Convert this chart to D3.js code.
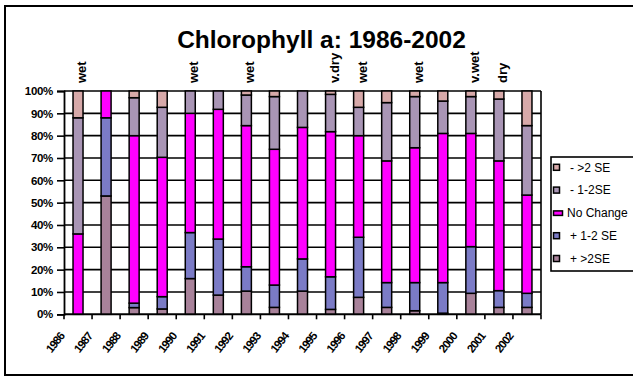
<!DOCTYPE html>
<html>
<head>
<meta charset="utf-8">
<script src="https://cdn.jsdelivr.net/npm/d3@7"></script>
<style>
  html, body { margin: 0; padding: 0; background: #fff; }
  svg { display: block; font-family: Arial, "Liberation Sans", sans-serif; }
</style>
</head>
<body>
<svg id="chart" width="633" height="376"></svg>
<script>
// Yearly share of stations (%) in each chlorophyll-a change class
const years = ["1986","1987","1988","1989","1990","1991","1992","1993","1994",
               "1995","1996","1997","1998","1999","2000","2001","2002"];
const plusGT2SE  = [0, 53, 3, 2.4, 16, 8.6, 10.4, 3.1, 10.4, 2.2, 7.6, 3.1, 1.6, 0.5, 9.4, 3.1, 3.1];
const plus1to2SE = [0, 35, 2, 5.5, 20.6, 25.1, 10.9, 10, 14.4, 14.6, 26.9, 11.1, 12.6, 13.7, 20.9, 7.5, 6.3];
const noChange   = [36, 12, 75, 62.4, 53.4, 58.1, 63.2, 60.8, 58.9, 65, 45.5, 54.5, 60.4, 66.8, 50.7, 58.1, 44];
const minus1to2SE= [52, 0, 17, 22.4, 10, 8.2, 13.7, 23.6, 16.3, 16.7, 12.7, 26.1, 22.9, 14.5, 16.5, 27.7, 31.1];
const minusGT2SE = [12, 0, 3, 7.3, 0, 0, 1.8, 2.5, 0, 1.5, 7.3, 5.2, 2.5, 4.5, 2.5, 3.6, 15.5];
// Hydrological condition of each year
const yearNotes = ["wet","","","","wet","","wet","","","v.dry","wet","","wet","","v.wet","dry",""];
const yTicks = [0,10,20,30,40,50,60,70,80,90,100];

// Series in stacking order, bottom to top
const seriesNames  = ["+ >2SE", "+ 1-2 SE", "No Change", "- 1-2SE", "- >2 SE"];
const seriesKeys   = ["pg2", "p12", "nc", "m12", "mg2"];
const seriesColors = ["#a8829a", "#7b7bc6", "#ff00ff", "#a995b5", "#d7a9a9"];

const rows = years.map((y, i) => ({
  year: y, pg2: plusGT2SE[i], p12: plus1to2SE[i], nc: noChange[i],
  m12: minus1to2SE[i], mg2: minusGT2SE[i]
}));

const svg = d3.select("#chart");
const font = 'Arial, "Liberation Sans", sans-serif';

// outer chart frame
svg.append("rect")
  .attr("x", 5).attr("y", 6).attr("width", 640).attr("height", 369)
  .attr("fill", "#fff").attr("stroke", "#000").attr("stroke-width", 2);

const plot = { left: 64, right: 541, top: 91, bottom: 314.3 };

const x = d3.scaleBand().domain(years).range([plot.left, plot.right]).paddingInner(0).paddingOuter(0);
const y = d3.scaleLinear().domain([0, 100]).range([plot.bottom, plot.top]);

// horizontal gridlines
svg.append("g").selectAll("line").data(yTicks).join("line")
  .attr("x1", plot.left).attr("x2", plot.right)
  .attr("y1", d => y(d)).attr("y2", d => y(d))
  .attr("stroke", "#000").attr("stroke-width", 1.6);

// right edge of plot area
svg.append("line")
  .attr("x1", plot.right).attr("x2", plot.right)
  .attr("y1", plot.top).attr("y2", plot.bottom)
  .attr("stroke", "#000").attr("stroke-width", 1.6);

// stacked bars
const stack = d3.stack().keys(seriesKeys);
const layers = stack(rows);
const barW = 10;

svg.append("g").selectAll("g").data(layers).join("g")
  .attr("fill", (d, i) => seriesColors[i])
  .selectAll("rect").data(d => d.filter(s => s[1] - s[0] > 0)).join("rect")
  .attr("x", d => x(d.data.year) + x.bandwidth() / 2 - barW / 2)
  .attr("width", barW)
  .attr("y", d => y(d[1]))
  .attr("height", d => y(d[0]) - y(d[1]))
  .attr("stroke", "#000").attr("stroke-width", 1.5);

// y axis
const yAxis = d3.axisLeft(y).tickValues(yTicks).tickSize(7).tickPadding(4)
  .tickFormat(d => d + "%");
const gy = svg.append("g").attr("transform", `translate(${plot.left},0)`).call(yAxis);
gy.select(".domain").attr("stroke", "#000").attr("stroke-width", 1.8);
gy.selectAll(".tick line").attr("stroke", "#000").attr("stroke-width", 1.6);
gy.selectAll(".tick text")
  .attr("font-family", font).attr("font-size", 11.5).attr("font-weight", "bold")
  .attr("fill", "#000").attr("letter-spacing", -0.3);

// x axis: ticks at category boundaries
const gx = svg.append("g");
gx.append("line")
  .attr("x1", plot.left).attr("x2", plot.right)
  .attr("y1", plot.bottom).attr("y2", plot.bottom)
  .attr("stroke", "#000").attr("stroke-width", 1.8);
const boundaries = years.map(d => x(d)).concat([plot.right]);
gx.selectAll("line.tk").data(boundaries).join("line").attr("class", "tk")
  .attr("x1", d => d).attr("x2", d => d)
  .attr("y1", plot.bottom).attr("y2", plot.bottom + 5)
  .attr("stroke", "#000").attr("stroke-width", 1.6);
gx.selectAll("text").data(years).join("text")
  .attr("transform", d => `translate(${x(d) + x.bandwidth() / 2 - 13},${plot.bottom + 22}) rotate(-52)`)
  .attr("text-anchor", "end")
  .attr("font-family", font).attr("font-size", 11.5).attr("font-weight", "bold")
  .attr("letter-spacing", -0.9)
  .text(d => d);

// hydrological notes above the bars
svg.append("g").selectAll("text")
  .data(years.map((yr, i) => ({ yr, note: yearNotes[i] })).filter(d => d.note))
  .join("text")
  .attr("transform", d => `translate(${x(d.yr) + x.bandwidth() / 2 + 8},83) rotate(-90)`)
  .attr("text-anchor", "start")
  .attr("font-family", font).attr("font-size", 13).attr("font-weight", "bold")
  .text(d => d.note);

// title
svg.append("text")
  .attr("x", 321.5).attr("y", 48)
  .attr("text-anchor", "middle")
  .attr("font-family", font).attr("font-size", 24.5).attr("font-weight", "bold")
  .text("Chlorophyll a: 1986-2002");

// legend (top entry is the top of the stack)
const legend = svg.append("g");
legend.append("rect")
  .attr("x", 551).attr("y", 157).attr("width", 100).attr("height", 114)
  .attr("fill", "#fff").attr("stroke", "#000").attr("stroke-width", 1.6);
const legendItems = seriesNames.map((n, i) => ({ name: n, color: seriesColors[i] })).reverse();
const li = legend.selectAll("g.item").data(legendItems).join("g").attr("class", "item")
  .attr("transform", (d, i) => `translate(0,${167.3 + i * 22.8})`);
li.append("rect")
  .attr("x", 553.5)
  .attr("y", d => d.name === "No Change" ? -2 : -3)
  .attr("width", d => d.name === "No Change" ? 9 : 6)
  .attr("height", d => d.name === "No Change" ? 4.5 : 6)
  .attr("fill", d => d.color).attr("stroke", "#000").attr("stroke-width", 1.5);
li.append("text")
  .attr("x", d => d.name === "No Change" ? 567 : 570)
  .attr("y", 4.3)
  .attr("font-family", font).attr("font-size", 12)
  .text(d => d.name);
</script>
</body>
</html>
